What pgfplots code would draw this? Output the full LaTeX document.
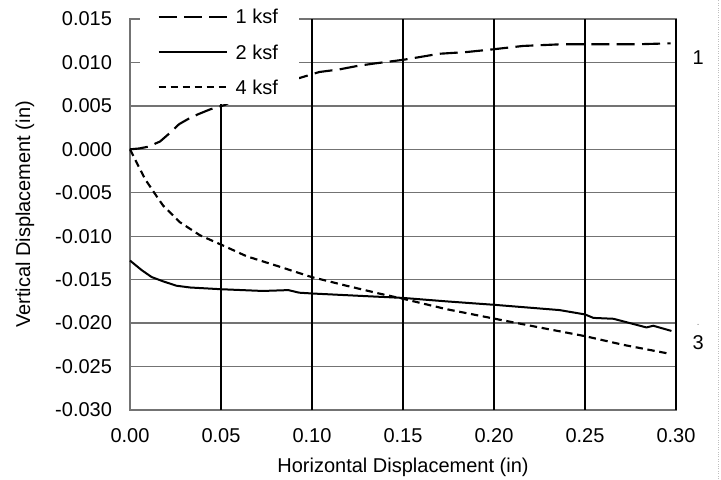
\documentclass[border=0pt]{standalone}
\usepackage{fontspec}
\setmainfont{Liberation Sans}
\usepackage{pgfplots}
\pgfplotsset{compat=1.18}
\newcommand{\ff}{\fontsize{15}{18}\selectfont}
\begin{document}
\begin{tikzpicture}
\useasboundingbox (-97.5pt,-51.75pt) rectangle (443.25pt,307.5pt);
\draw[black!25, densely dotted, line width=0.8pt] (441.5pt,-51.75pt) -- (441.5pt,307.5pt);
\begin{axis}[
  at={(0pt,0pt)}, anchor=south west,
  scale only axis, width=409.5pt, height=293.25pt,
  xmin=0, xmax=0.30, ymin=-0.030, ymax=0.015,
  scaled x ticks=false, scaled y ticks=false,
  xtick={0,0.05,0.10,0.15,0.20,0.25,0.30},
  xticklabels={0.00,0.05,0.10,0.15,0.20,0.25,0.30},
  ytick={-0.030,-0.025,-0.020,-0.015,-0.010,-0.005,0,0.005,0.010,0.015},
  yticklabels={-0.030,-0.025,-0.020,-0.015,-0.010,-0.005,0.000,0.005,0.010,0.015},
  major tick length=0pt,
  tick label style={font=\ff},
  xticklabel style={yshift=-10pt},
  yticklabel style={xshift=-10pt},
  axis line style={black!55, line width=1pt},
  ymajorgrids=true,
  major grid style={black!55, line width=1pt},
  extra x ticks={0.05,0.10,0.15,0.20,0.25,0.30},
  extra x tick labels={},
  extra x tick style={xmajorgrids=true, major grid style={black, line width=1.1pt}, major tick length=0pt},
  xlabel={Horizontal Displacement (in)},
  ylabel={Vertical Displacement (in)},
  label style={font=\ff},
  xlabel style={at={(axis description cs:0.5,-0.1457)}, anchor=center},
  ylabel style={at={(axis description cs:-0.1923,0.5)}, anchor=center},
  legend image code/.code={\draw[#1] (0pt,5.3pt) -- (51pt,5.3pt);},
  legend style={at={(axis description cs:0.0183,1.0498)}, anchor=north west,
    draw=none, fill=white, font=\ff, inner xsep=13pt, inner ysep=6pt,
    row sep=13.5pt, column sep=3pt,
    nodes={inner xsep=3pt, inner ysep=1pt, text height=11pt, text depth=0pt, anchor=base west}},
  legend cell align=left,
  clip=false,
]
\addplot[black, line width=1.6pt, dash pattern=on 13.5pt off 5.5pt] coordinates {
(0,0) (0.005,0.0001) (0.010,0.0003) (0.0165,0.0009) (0.022,0.0019)
(0.027,0.0029) (0.032,0.0035) (0.037,0.0040) (0.044,0.0046) (0.052,0.0051)
(0.060,0.0060) (0.070,0.0068) (0.080,0.0075) (0.086,0.0080) (0.093,0.0082)
(0.104,0.0089) (0.115,0.0092) (0.125,0.0096) (0.135,0.0099) (0.150,0.0103)
(0.170,0.0110) (0.185,0.0112) (0.199,0.0115) (0.216,0.0119) (0.238,0.0121)
(0.260,0.0121) (0.280,0.0121) (0.297,0.0122)
};
\addlegendentry{1 ksf}
\addplot[black, line width=1.5pt] coordinates {
(0,-0.0128) (0.0064,-0.0139) (0.0119,-0.0147) (0.0183,-0.0152) (0.0256,-0.0157)
(0.033,-0.0159) (0.050,-0.0161) (0.073,-0.0163) (0.087,-0.0162) (0.093,-0.0165)
(0.101,-0.0166) (0.130,-0.0169) (0.150,-0.0171) (0.174,-0.0175) (0.2005,-0.0179)
(0.236,-0.0185) (0.250,-0.0190) (0.2546,-0.0194) (0.2656,-0.0195) (0.2838,-0.0205)
(0.2875,-0.0203) (0.2975,-0.0209)
};
\addlegendentry{2 ksf}
\addplot[black, line width=1.6pt, dash pattern=on 5.5pt off 3.5pt] coordinates {
(0,0) (0.0082,-0.0034) (0.0156,-0.0057) (0.0183,-0.0065) (0.0275,-0.0084)
(0.0385,-0.0099) (0.0504,-0.0110) (0.064,-0.0123) (0.0806,-0.0134) (0.0998,-0.0147)
(0.119,-0.0157) (0.137,-0.0166) (0.150,-0.0172) (0.174,-0.0184) (0.2005,-0.0195)
(0.225,-0.0205) (0.250,-0.0215) (0.271,-0.0225) (0.2958,-0.0235)
};
\addlegendentry{4 ksf}
\node[font=\ff] at (axis cs:0.3122,0.01058) {1};
\node[font=\ff] at (axis cs:0.3122,-0.0222) {3};
\node[font=\tiny, black!60] at (axis cs:0.3122,-0.0203) {-};
\end{axis}
\end{tikzpicture}
\end{document}
